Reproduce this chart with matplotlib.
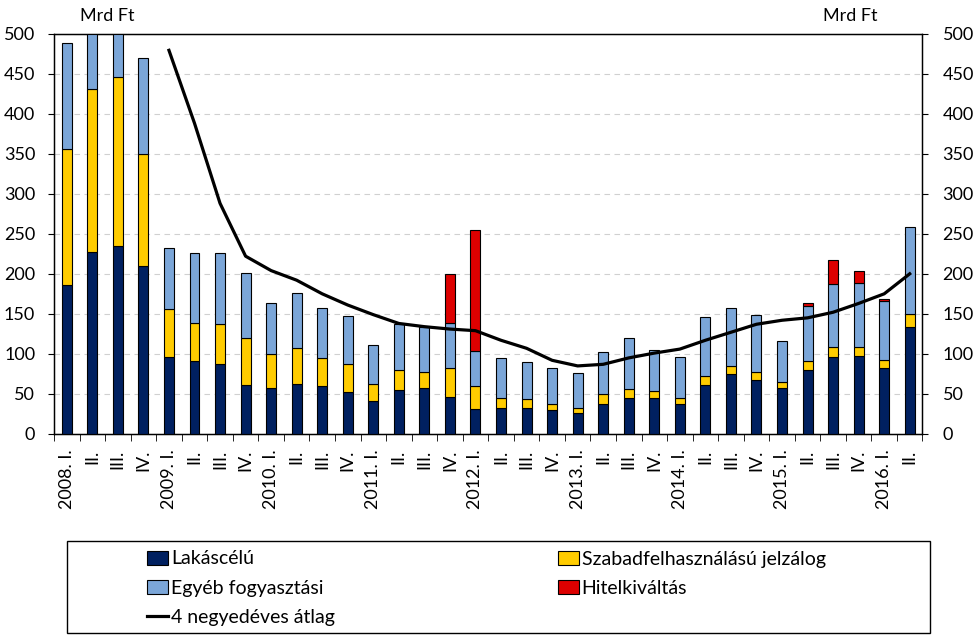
import numpy as np
import matplotlib
matplotlib.use("Agg")
import matplotlib.pyplot as plt
from matplotlib.patches import Rectangle

# quarterly values, Mrd Ft
quarters = ['2008. I.', 'II.', 'III.', 'IV.',
            '2009. I.', 'II.', 'III.', 'IV.',
            '2010. I.', 'II.', 'III.', 'IV.',
            '2011. I.', 'II.', 'III.', 'IV.',
            '2012. I.', 'II.', 'III.', 'IV.',
            '2013. I.', 'II.', 'III.', 'IV.',
            '2014. I.', 'II.', 'III.', 'IV.',
            '2015. I.', 'II.', 'III.', 'IV.',
            '2016. I.', 'II.']

lakas = [186, 227, 235, 210, 96, 91, 88, 61, 57, 62, 60, 53,
         41, 55, 57, 46, 31, 33, 33, 30, 26, 38, 45, 45,
         38, 61, 75, 68, 57, 80, 96, 97, 83, 133]
szabad = [170, 204, 211, 140, 60, 47, 49, 59, 43, 45, 35, 34,
          22, 25, 20, 36, 29, 12, 11, 8, 7, 12, 11, 9,
          7, 11, 10, 10, 8, 11, 12, 11, 9, 17]
egyeb = [132, 159, 174, 120, 76, 88, 89, 81, 63, 69, 62, 60,
         48, 57, 57, 57, 43, 50, 46, 45, 43, 52, 64, 51,
         51, 74, 72, 70, 51, 69, 79, 80, 74, 108]
hitel = [0, 0, 0, 0, 0, 0, 0, 0, 0, 0, 0, 0,
         0, 0, 0, 61, 152, 0, 0, 0, 0, 0, 0, 0,
         0, 0, 0, 0, 0, 3, 30, 15, 2, 0]
atlag = [np.nan, np.nan, np.nan, np.nan, 479, 388, 288, 222, 204, 192, 175, 161,
         149, 138, 134, 131, 129, 117, 107, 92, 85, 87, 95, 101,
         106, 117, 127, 137, 142, 145, 152, 163, 175, 200]

c_navy = '#002060'
c_yellow = '#FFCC00'
c_lblue = '#7BA6D8'
c_red = '#DD0000'

plt.rcParams['font.family'] = ['Lato', 'DejaVu Sans']

W, H = 978, 639
fig = plt.figure(figsize=(W / 100, H / 100), dpi=100)
ax = fig.add_axes([54 / W, 1 - 434 / H, 868.5 / W, 400.5 / H])

x = np.arange(len(quarters))
w = 0.39
b1 = np.array(lakas)
b2 = b1 + np.array(szabad)
b3 = b2 + np.array(egyeb)

h1 = ax.bar(x, lakas, w, color=c_navy, edgecolor='black', linewidth=0.8, zorder=3)
h2 = ax.bar(x, szabad, w, bottom=b1, color=c_yellow, edgecolor='black', linewidth=0.8, zorder=3)
h3 = ax.bar(x, egyeb, w, bottom=b2, color=c_lblue, edgecolor='black', linewidth=0.8, zorder=3)
hv = np.array(hitel)
h4 = ax.bar(x[hv > 0], hv[hv > 0], w, bottom=b3[hv > 0], color=c_red,
            edgecolor='black', linewidth=0.8, zorder=3)
ln, = ax.plot(x, atlag, color='black', linewidth=2.3, zorder=4)

ax.set_xlim(-0.5, len(quarters) - 0.5)
ax.set_ylim(0, 500)
ax.set_yticks(np.arange(0, 501, 50))
ax.yaxis.grid(True, color='#d0d0d0', linestyle=(0, (5, 4)), linewidth=0.8, zorder=0)
ax.tick_params(axis='y', labelsize=13, length=4.5, pad=9, direction='out')

ax.set_xticks(x)
ax.set_xticklabels(quarters, rotation=90, fontsize=13)
ax.set_xticks(np.arange(-0.5, len(quarters), 1), minor=True)
ax.tick_params(axis='x', which='major', length=0, pad=11)
ax.tick_params(axis='x', which='minor', length=5, direction='out')

for s in ax.spines.values():
    s.set_color('black')
    s.set_linewidth(1)

ax2 = ax.twinx()
ax2.set_ylim(0, 500)
ax2.set_yticks(np.arange(0, 501, 50))
ax2.tick_params(axis='y', labelsize=13, length=4.5, pad=10, direction='out')

fig.text(80 / W, 1 - 16 / H, 'Mrd Ft', fontsize=13, va='center', ha='left')
fig.text(878 / W, 1 - 16 / H, 'Mrd Ft', fontsize=13, va='center', ha='right')

# legend box
fig.patches.append(Rectangle((67 / W, 1 - 633 / H), 863 / W, 92 / H,
                             transform=fig.transFigure, fill=False,
                             edgecolor='black', linewidth=1))
leg = fig.legend([h1, h3, ln, h2, h4],
                 ['Lakáscélú', 'Egyéb fogyasztási', '4 negyedéves átlag',
                  'Szabadfelhasználású jelzálog', 'Hitelkiváltás'],
                 ncol=2, frameon=False, loc='upper left',
                 bbox_to_anchor=(130 / W, 1 - 533 / H),
                 prop={'size': 14},
                 handlelength=1.05, handleheight=0.7, handletextpad=0.15,
                 labelspacing=0.62, columnspacing=11.5)

fig.savefig('out.png', dpi=100)
